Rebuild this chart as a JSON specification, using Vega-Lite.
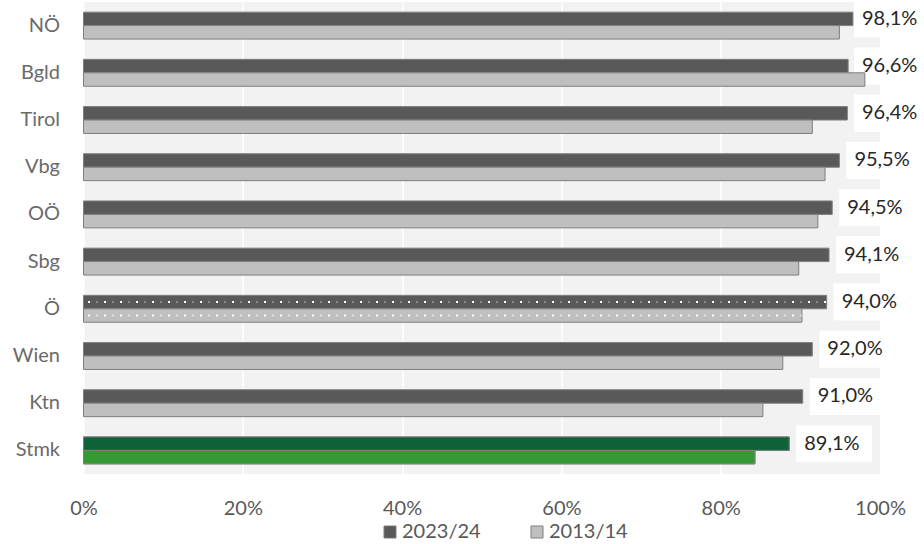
{
  "$schema": "https://vega.github.io/schema/vega-lite/v6.json",
  "width": 796.5,
  "height": 472,
  "autosize": "none",
  "padding": {"left": 83.5, "top": 2, "right": 44, "bottom": 70},
  "background": "white",
  "config": {
    "view": {"fill": "#f2f2f2", "stroke": null},
    "font": "Lato",
    "axisY": {
      "domain": false,
      "ticks": false,
      "labelPadding": 24,
      "labelFontSize": 20,
      "labelFontWeight": 400,
      "labelColor": "#6a6a6a",
      "labelFont": "Lato"
    }
  },
  "data": {
    "values": [
      {"region": "NÖ", "series": "2023/24", "value": 96.6, "label": "98,1%"},
      {"region": "NÖ", "series": "2013/14", "value": 94.9},
      {"region": "Bgld", "series": "2023/24", "value": 96.0, "label": "96,6%"},
      {"region": "Bgld", "series": "2013/14", "value": 98.1},
      {"region": "Tirol", "series": "2023/24", "value": 95.9, "label": "96,4%"},
      {"region": "Tirol", "series": "2013/14", "value": 91.5},
      {"region": "Vbg", "series": "2023/24", "value": 94.9, "label": "95,5%"},
      {"region": "Vbg", "series": "2013/14", "value": 93.1},
      {"region": "OÖ", "series": "2023/24", "value": 94.0, "label": "94,5%"},
      {"region": "OÖ", "series": "2013/14", "value": 92.2},
      {"region": "Sbg", "series": "2023/24", "value": 93.6, "label": "94,1%"},
      {"region": "Sbg", "series": "2013/14", "value": 89.8},
      {"region": "Ö", "series": "2023/24", "value": 93.3, "label": "94,0%"},
      {"region": "Ö", "series": "2013/14", "value": 90.2},
      {"region": "Wien", "series": "2023/24", "value": 91.5, "label": "92,0%"},
      {"region": "Wien", "series": "2013/14", "value": 87.8},
      {"region": "Ktn", "series": "2023/24", "value": 90.3, "label": "91,0%"},
      {"region": "Ktn", "series": "2013/14", "value": 85.3},
      {"region": "Stmk", "series": "2023/24", "value": 88.6, "label": "89,1%"},
      {"region": "Stmk", "series": "2013/14", "value": 84.3}
    ]
  },
  "encoding": {
    "y": {
      "field": "region",
      "type": "nominal",
      "title": null,
      "scale": {
        "domain": ["NÖ", "Bgld", "Tirol", "Vbg", "OÖ", "Sbg", "Ö", "Wien", "Ktn", "Stmk"],
        "paddingInner": 0.43,
        "paddingOuter": 0.215
      }
    },
    "yOffset": {
      "field": "series",
      "type": "nominal",
      "scale": {"domain": ["2023/24", "2013/14"], "paddingInner": 0, "paddingOuter": 0}
    }
  },
  "layer": [
    {
      "transform": [
        {"filter": "datum.series === '2023/24'"},
        {"calculate": "min(datum.value, 95.85)", "as": "pos"}
      ],
      "mark": {"type": "rule", "color": "white", "strokeWidth": 37, "strokeCap": "butt", "xOffset": 7, "x2Offset": 83},
      "encoding": {
        "x": {"field": "pos", "type": "quantitative", "scale": {"domain": [0, 100]}},
        "x2": {"field": "pos"}
      }
    },
    {
      "mark": {"type": "bar", "stroke": "#7f7f7f", "strokeWidth": 1},
      "encoding": {
        "x": {
          "field": "value",
          "type": "quantitative",
          "scale": {"domain": [0, 100]},
          "axis": {
            "title": null,
            "values": [0, 20, 40, 60, 80, 100],
            "labelExpr": "datum.value + '%'",
            "domain": false,
            "ticks": false,
            "grid": true,
            "gridColor": "white",
            "gridWidth": 1.5,
            "labelPadding": 24,
            "labelFontSize": 20,
            "labelFontWeight": "normal",
            "labelColor": "#595959",
            "labelFont": "Lato",
            "labelFlush": false
          }
        },
        "color": {
          "field": "series",
          "type": "nominal",
          "scale": {"domain": ["2023/24", "2013/14"], "range": ["#595959", "#bfbfbf"]},
          "legend": {
            "title": null,
            "orient": "none",
            "direction": "horizontal",
            "legendX": 296.5,
            "legendY": 520,
            "symbolType": "square",
            "symbolSize": 144,
            "symbolStrokeColor": "#7f7f7f",
            "symbolStrokeWidth": 1,
            "symbolOpacity": 1,
            "labelFontSize": 20,
            "labelFontWeight": "normal",
            "labelColor": "#595959",
            "labelFont": "Lato",
            "labelOffset": 2,
            "columnPadding": 46
          }
        }
      }
    },
    {
      "transform": [{"filter": "datum.region === 'Stmk'"}],
      "mark": {"type": "bar", "stroke": "#7f7f7f", "strokeWidth": 1},
      "encoding": {
        "x": {"field": "value", "type": "quantitative"},
        "color": {
          "condition": {"test": "datum.series === '2023/24'", "value": "#0f6238"},
          "value": "#349a34"
        }
      }
    },
    {
      "transform": [{"filter": "datum.region === 'Ö' && datum.series === '2023/24'"}],
      "mark": {"type": "rule", "color": "white", "strokeWidth": 2, "strokeCap": "butt", "strokeDash": [2, 14], "strokeDashOffset": 15.4, "yOffset": 1.95},
      "encoding": {"x": {"field": "value", "type": "quantitative"}, "x2": {"datum": 0}}
    },
    {
      "transform": [{"filter": "datum.region === 'Ö' && datum.series === '2023/24'"}],
      "mark": {"type": "rule", "color": "white", "opacity": 0.3, "strokeWidth": 2, "strokeCap": "butt", "strokeDash": [2, 14], "strokeDashOffset": 7.4, "yOffset": -5.85},
      "encoding": {"x": {"field": "value", "type": "quantitative"}, "x2": {"datum": 0}}
    },
    {
      "transform": [{"filter": "datum.region === 'Ö' && datum.series === '2013/14'"}],
      "mark": {"type": "rule", "color": "white", "strokeWidth": 2, "strokeCap": "butt", "strokeDash": [2, 14], "strokeDashOffset": 8.1, "yOffset": 3.85},
      "encoding": {"x": {"field": "value", "type": "quantitative"}, "x2": {"datum": 0}}
    },
    {
      "transform": [{"filter": "datum.region === 'Ö' && datum.series === '2013/14'"}],
      "mark": {"type": "rule", "color": "white", "opacity": 0.5, "strokeWidth": 2, "strokeCap": "butt", "strokeDash": [2, 14], "strokeDashOffset": 0.1, "yOffset": -3.55},
      "encoding": {"x": {"field": "value", "type": "quantitative"}, "x2": {"datum": 0}}
    },
    {
      "transform": [
        {"filter": "datum.series === '2023/24'"},
        {"calculate": "min(datum.value, 95.85)", "as": "pos"}
      ],
      "mark": {"type": "text", "align": "left", "baseline": "middle", "dx": 15, "fontSize": 20, "color": "#262626", "font": "Lato"},
      "encoding": {
        "x": {"field": "pos", "type": "quantitative"},
        "text": {"field": "label"}
      }
    }
  ]
}
